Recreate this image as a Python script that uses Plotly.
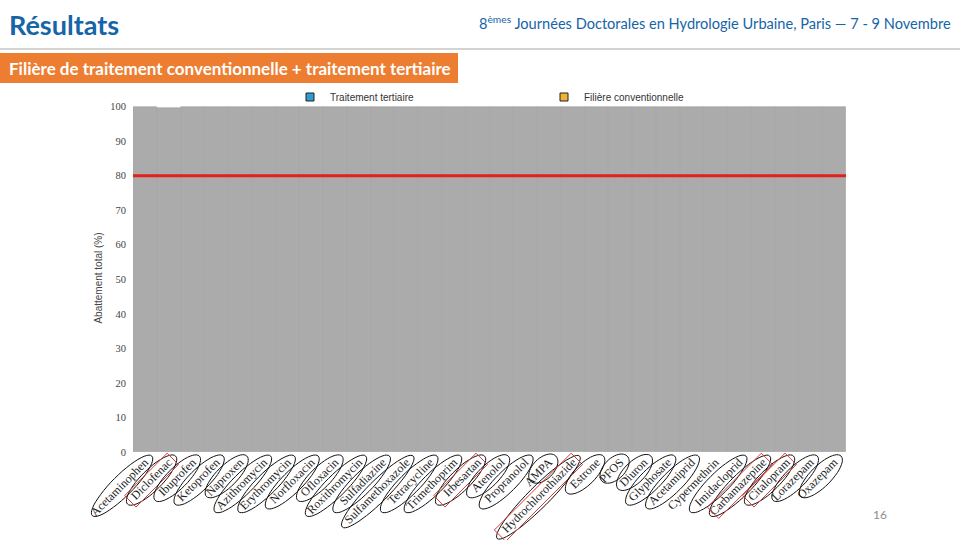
import numpy as np
import plotly.graph_objects as go

# ---- data ----
categories = ["Acetaminophen", "Diclofenac", "Ibuprofen", "Ketoprofen", "Naproxen",
              "Azithromycin", "Erythromycin", "Norfloxacin", "Ofloxacin", "Roxithromycin",
              "Sulfadiazine", "Sulfamethoxazole", "Tetracycline", "Trimethoprim", "Irbesartan",
              "Atenolol", "Propranolol", "AMPA", "Hydrochlorothiazide", "Estrone",
              "PFOS", "Diuron", "Glyphosate", "Acetamiprid", "Cypermethrin",
              "Imidacloprid", "Carbamazepine", "Citalopram", "Lorazepam", "Oxazepam"]
# values as visible on the slide (all bars covered by a grey mask at ~100 %)
abattement_total = [100, 99.6, 100, 100, 100, 100, 100, 100, 100, 100,
                    100, 100, 100, 100, 100, 100, 100, 100, 100, 100,
                    100, 100, 100, 100, 100, 100, 100, 100, 100, 100]
seuil = 80
series_names = ["Traitement tertiaire", "Filière conventionnelle"]
highlighted = ["Diclofenac", "Irbesartan", "Hydrochlorothiazide", "Carbamazepine", "Citalopram"]
not_circled = ["Cypermethrin"]
y_ticks = [0, 10, 20, 30, 40, 50, 60, 70, 80, 90, 100]

# plot-area geometry (pixels)
L_M, R_M, T_M, B_M = 133, 114, 104, 88
PW, PH = 960 - L_M - R_M, 540 - T_M - B_M

def px_x(x):  # page pixel x -> paper fraction
    return (x - L_M) / PW

def px_y(y):  # page pixel y -> paper fraction
    return 1 - (y - T_M) / PH

fig = go.Figure()

fig.add_trace(go.Bar(x=categories, y=abattement_total, marker=dict(color="#ABABAB",
                     line=dict(color="#A2A2A2", width=0.6)), showlegend=False, hoverinfo="skip"))
fig.add_trace(go.Scatter(x=[None], y=[None], mode="markers", name=series_names[0],
                         marker=dict(symbol="square", size=8, color="#2F9BD3",
                                     line=dict(color="#222222", width=1))))
fig.add_trace(go.Scatter(x=[None], y=[None], mode="markers", name=series_names[1],
                         marker=dict(symbol="square", size=8, color="#F2B233",
                                     line=dict(color="#222222", width=1))))

# threshold line
fig.add_shape(type="line", xref="paper", x0=0, x1=1, yref="y", y0=seuil, y1=seuil,
              line=dict(color="#E3201B", width=3), layer="above")

# ellipses / rectangles around tick labels (pixel-based shapes anchored at each tick)
def rot_path(pts, theta):
    c, s = np.cos(theta), np.sin(theta)
    return [(px * c - py * s, px * s + py * c) for px, py in pts]

n = len(categories)
theta = np.deg2rad(45)
for i, cat in enumerate(categories):
    L = len(cat) * 5.4
    half = L / 2
    center = (-half * np.cos(theta) + 2, -9 - half * np.sin(theta))
    xa = (i + 0.5) / n
    if cat not in not_circled:
        a, b = half + 7, 10.5
        t = np.linspace(0, 2 * np.pi, 49)
        pts = rot_path(list(zip(a * np.cos(t), b * np.sin(t))), theta)
        path = "M " + " L ".join(f"{center[0] + px:.1f},{center[1] + py:.1f}" for px, py in pts) + " Z"
        fig.add_shape(type="path", path=path, xref="paper", yref="paper", xsizemode="pixel",
                      ysizemode="pixel", xanchor=xa, yanchor=0, line=dict(color="#111111", width=1))
    if cat in highlighted:
        a, b = half + 3, 8
        pts = rot_path([(-a, -b), (a, -b), (a, b), (-a, b)], theta)
        path = "M " + " L ".join(f"{center[0] + px:.1f},{center[1] + py:.1f}" for px, py in pts) + " Z"
        fig.add_shape(type="path", path=path, xref="paper", yref="paper", xsizemode="pixel",
                      ysizemode="pixel", xanchor=xa, yanchor=0, line=dict(color="#D43A3A", width=1))

# header decorations
fig.add_annotation(text="<b>Résultats</b>", xref="paper", yref="paper", x=px_x(7), y=px_y(24),
                   xanchor="left", yanchor="middle", showarrow=False,
                   font=dict(family="Lato", size=27, color="#1565A8"))
fig.add_annotation(text="8<sup>èmes</sup> Journées Doctorales en Hydrologie Urbaine, Paris — 7 - 9 Novembre",
                   xref="paper", yref="paper", x=px_x(953), y=px_y(23),
                   xanchor="right", yanchor="middle", showarrow=False,
                   font=dict(family="Lato", size=14.6, color="#1565A8"))
fig.add_shape(type="line", xref="paper", yref="paper", x0=px_x(0), x1=px_x(960),
              y0=px_y(49), y1=px_y(49), line=dict(color="#A8A8A8", width=1.2))
fig.add_shape(type="rect", xref="paper", yref="paper", x0=px_x(0), x1=px_x(458),
              y0=px_y(83), y1=px_y(53), fillcolor="#ED7D31", line=dict(width=0))
fig.add_annotation(text="<b>Filière de traitement conventionnelle + traitement tertiaire</b>",
                   xref="paper", yref="paper", x=px_x(7), y=px_y(68),
                   xanchor="left", yanchor="middle", showarrow=False,
                   font=dict(family="Lato", size=17, color="#FFFFFF"))
fig.add_annotation(text="16", xref="paper", yref="paper", x=px_x(880), y=px_y(514),
                   xanchor="center", yanchor="middle", showarrow=False,
                   font=dict(family="Lato", size=12, color="#8C8C8C"))

fig.update_layout(
    width=960, height=540,
    margin=dict(l=L_M, r=R_M, t=T_M, b=B_M),
    paper_bgcolor="#FFFFFF", plot_bgcolor="#FFFFFF",
    barmode="overlay", bargap=0,
    showlegend=True,
    legend=dict(orientation="h", x=px_x(290), y=px_y(97), xanchor="left", yanchor="middle",
                entrywidth=209, entrywidthmode="pixels", itemwidth=30,
                font=dict(family="Liberation Sans", size=10, color="#333333"),
                bgcolor="rgba(0,0,0,0)", tracegroupgap=0),
    xaxis=dict(range=[-0.5, n - 0.5], tickangle=-45,
               tickfont=dict(family="Liberation Serif", size=12, color="#222222"),
               showgrid=False, showline=False, ticks="", automargin=False),
    yaxis=dict(range=[0, 100.75], tickvals=y_ticks, showgrid=False, zeroline=False, showline=False,
               tickfont=dict(family="Liberation Serif", size=10.5, color="#444444"), ticks="",
               ticklabelstandoff=6,
               title=dict(text="Abattement total (%)", standoff=5,
                          font=dict(family="Liberation Sans", size=10, color="#444444")),
               automargin=False),
)

fig.write_html("out.html", config={"displayModeBar": False},
               post_script="document.body.style.margin='0px';")
